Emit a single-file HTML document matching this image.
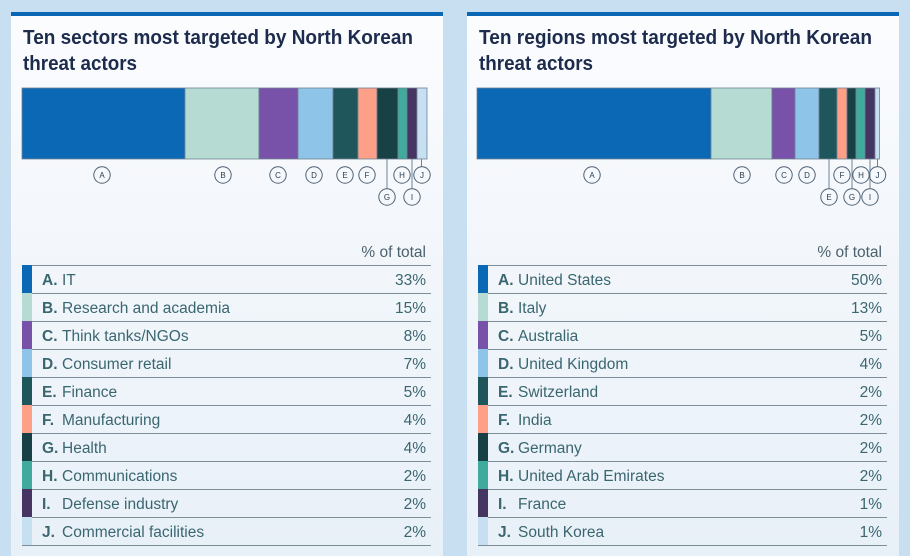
<!DOCTYPE html>
<html>
<head>
<meta charset="utf-8">
<style>
html,body{margin:0;padding:0;background:#c8dff1;}
svg{display:block;}
</style>
</head>
<body>
<svg width="910" height="556" viewBox="0 0 910 556" xmlns="http://www.w3.org/2000/svg" font-family="'Liberation Sans', sans-serif">
<defs>
<linearGradient id="cg" x1="0" y1="0" x2="0" y2="1">
<stop offset="0" stop-color="#fbfcfe"/>
<stop offset="1" stop-color="#e8f0f8"/>
</linearGradient>
</defs>
<rect x="0" y="0" width="910" height="556" fill="#c8dff1"/>

<!-- LEFT CARD -->
<rect x="11" y="12" width="432" height="544" fill="url(#cg)"/>
<rect x="11" y="12" width="432" height="4" fill="#0b66b3"/>
<text x="23" y="44" font-size="20" font-weight="bold" fill="#1d2b4d" textLength="390" lengthAdjust="spacingAndGlyphs">Ten sectors most targeted by North Korean</text>
<text x="23" y="70" font-size="20" font-weight="bold" fill="#1d2b4d" textLength="114" lengthAdjust="spacingAndGlyphs">threat actors</text>

<g stroke="#6f8394" stroke-width="0.8">
<rect x="22" y="88" width="163" height="71" fill="#0a68b5"/>
<rect x="185" y="88" width="74" height="71" fill="#b5dbd2"/>
<rect x="259" y="88" width="39" height="71" fill="#7752a8"/>
<rect x="298" y="88" width="35" height="71" fill="#8ec4e8"/>
<rect x="333" y="88" width="25" height="71" fill="#1f565c"/>
<rect x="358" y="88" width="19" height="71" fill="#fea087"/>
<rect x="377" y="88" width="21" height="71" fill="#184145"/>
<rect x="398" y="88" width="9" height="71" fill="#40ab9c"/>
<rect x="407" y="88" width="10" height="71" fill="#463563"/>
<rect x="417" y="88" width="10" height="71" fill="#c6e0f2"/>
</g>

<g stroke="#6f8394" stroke-width="1" fill="none">
<line x1="387" y1="159" x2="387" y2="188.5"/>
<line x1="412" y1="159" x2="412" y2="188.5"/>
<line x1="421.5" y1="159" x2="421.5" y2="166.5"/>
</g>
<g stroke="#4f6275" stroke-width="1" fill="none">
<circle cx="102" cy="175" r="8.2"/>
<circle cx="223" cy="175" r="8.2"/>
<circle cx="278" cy="175" r="8.2"/>
<circle cx="314" cy="175" r="8.2"/>
<circle cx="345" cy="175" r="8.2"/>
<circle cx="367" cy="175" r="8.2"/>
<circle cx="387" cy="197" r="8.2"/>
<circle cx="402" cy="175" r="8.2"/>
<circle cx="412" cy="197" r="8.2"/>
<circle cx="422" cy="175" r="8.2"/>
</g>
<g font-size="8" fill="#2b3e50" text-anchor="middle">
<text x="102" y="178">A</text>
<text x="223" y="178">B</text>
<text x="278" y="178">C</text>
<text x="314" y="178">D</text>
<text x="345" y="178">E</text>
<text x="367" y="178">F</text>
<text x="387" y="200">G</text>
<text x="402" y="178">H</text>
<text x="412" y="200">I</text>
<text x="422" y="178">J</text>
</g>

<text x="426" y="257" font-size="15.5" fill="#4b616c" text-anchor="end">% of total</text>
<g>
<rect x="22" y="265" width="10" height="28" fill="#0a68b5"/>
<rect x="22" y="293" width="10" height="28" fill="#b5dbd2"/>
<rect x="22" y="321" width="10" height="28" fill="#7752a8"/>
<rect x="22" y="349" width="10" height="28" fill="#8ec4e8"/>
<rect x="22" y="377" width="10" height="28" fill="#1f565c"/>
<rect x="22" y="405" width="10" height="28" fill="#fea087"/>
<rect x="22" y="433" width="10" height="28" fill="#184145"/>
<rect x="22" y="461" width="10" height="28" fill="#40ab9c"/>
<rect x="22" y="489" width="10" height="28" fill="#463563"/>
<rect x="22" y="517" width="10" height="28" fill="#c6e0f2"/>
</g>
<g stroke="#7d8e99" stroke-width="1">
<line x1="32" y1="265.5" x2="431" y2="265.5"/>
<line x1="32" y1="293.5" x2="431" y2="293.5"/>
<line x1="32" y1="321.5" x2="431" y2="321.5"/>
<line x1="32" y1="349.5" x2="431" y2="349.5"/>
<line x1="32" y1="377.5" x2="431" y2="377.5"/>
<line x1="32" y1="405.5" x2="431" y2="405.5"/>
<line x1="32" y1="433.5" x2="431" y2="433.5"/>
<line x1="32" y1="461.5" x2="431" y2="461.5"/>
<line x1="32" y1="489.5" x2="431" y2="489.5"/>
<line x1="32" y1="517.5" x2="431" y2="517.5"/>
<line x1="22" y1="545.5" x2="431" y2="545.5"/>
</g>
<g font-size="15.5" fill="#3a6670">
<g font-weight="bold">
<text x="42" y="285">A.</text>
<text x="42" y="313">B.</text>
<text x="42" y="341">C.</text>
<text x="42" y="369">D.</text>
<text x="42" y="397">E.</text>
<text x="42" y="425">F.</text>
<text x="42" y="453">G.</text>
<text x="42" y="481">H.</text>
<text x="42" y="509">I.</text>
<text x="42" y="537">J.</text>
</g>
<text x="62" y="285">IT</text>
<text x="62" y="313">Research and academia</text>
<text x="62" y="341">Think tanks/NGOs</text>
<text x="62" y="369">Consumer retail</text>
<text x="62" y="397">Finance</text>
<text x="62" y="425">Manufacturing</text>
<text x="62" y="453">Health</text>
<text x="62" y="481">Communications</text>
<text x="62" y="509">Defense industry</text>
<text x="62" y="537">Commercial facilities</text>
<g text-anchor="end">
<text x="426" y="285">33%</text>
<text x="426" y="313">15%</text>
<text x="426" y="341">8%</text>
<text x="426" y="369">7%</text>
<text x="426" y="397">5%</text>
<text x="426" y="425">4%</text>
<text x="426" y="453">4%</text>
<text x="426" y="481">2%</text>
<text x="426" y="509">2%</text>
<text x="426" y="537">2%</text>
</g>
</g>

<!-- RIGHT CARD -->
<rect x="467" y="12" width="432" height="544" fill="url(#cg)"/>
<rect x="467" y="12" width="432" height="4" fill="#0b66b3"/>
<text x="479" y="44" font-size="20" font-weight="bold" fill="#1d2b4d" textLength="393" lengthAdjust="spacingAndGlyphs">Ten regions most targeted by North Korean</text>
<text x="479" y="70" font-size="20" font-weight="bold" fill="#1d2b4d" textLength="114" lengthAdjust="spacingAndGlyphs">threat actors</text>

<g stroke="#6f8394" stroke-width="0.8">
<rect x="477" y="88" width="234" height="71" fill="#0a68b5"/>
<rect x="711" y="88" width="61" height="71" fill="#b5dbd2"/>
<rect x="772" y="88" width="23" height="71" fill="#7752a8"/>
<rect x="795" y="88" width="24" height="71" fill="#8ec4e8"/>
<rect x="819" y="88" width="18" height="71" fill="#1f565c"/>
<rect x="837" y="88" width="10" height="71" fill="#fea087"/>
<rect x="847" y="88" width="9" height="71" fill="#184145"/>
<rect x="856" y="88" width="9" height="71" fill="#40ab9c"/>
<rect x="865" y="88" width="10" height="71" fill="#463563"/>
<rect x="875" y="88" width="4.5" height="71" fill="#c6e0f2"/>
</g>

<g stroke="#6f8394" stroke-width="1" fill="none">
<line x1="829" y1="159" x2="829" y2="188.5"/>
<line x1="852" y1="159" x2="852" y2="188.5"/>
<line x1="870" y1="159" x2="870" y2="188.5"/>
<line x1="877.5" y1="159" x2="877.5" y2="166.5"/>
</g>
<g stroke="#4f6275" stroke-width="1" fill="none">
<circle cx="592" cy="175" r="8.2"/>
<circle cx="742" cy="175" r="8.2"/>
<circle cx="784" cy="175" r="8.2"/>
<circle cx="807" cy="175" r="8.2"/>
<circle cx="829" cy="197" r="8.2"/>
<circle cx="842" cy="175" r="8.2"/>
<circle cx="852" cy="197" r="8.2"/>
<circle cx="861" cy="175" r="8.2"/>
<circle cx="870" cy="197" r="8.2"/>
<circle cx="877.5" cy="175" r="8.2"/>
</g>
<g font-size="8" fill="#2b3e50" text-anchor="middle">
<text x="592" y="178">A</text>
<text x="742" y="178">B</text>
<text x="784" y="178">C</text>
<text x="807" y="178">D</text>
<text x="829" y="200">E</text>
<text x="842" y="178">F</text>
<text x="852" y="200">G</text>
<text x="861" y="178">H</text>
<text x="870" y="200">I</text>
<text x="877.5" y="178">J</text>
</g>

<text x="882" y="257" font-size="15.5" fill="#4b616c" text-anchor="end">% of total</text>
<g>
<rect x="478" y="265" width="10" height="28" fill="#0a68b5"/>
<rect x="478" y="293" width="10" height="28" fill="#b5dbd2"/>
<rect x="478" y="321" width="10" height="28" fill="#7752a8"/>
<rect x="478" y="349" width="10" height="28" fill="#8ec4e8"/>
<rect x="478" y="377" width="10" height="28" fill="#1f565c"/>
<rect x="478" y="405" width="10" height="28" fill="#fea087"/>
<rect x="478" y="433" width="10" height="28" fill="#184145"/>
<rect x="478" y="461" width="10" height="28" fill="#40ab9c"/>
<rect x="478" y="489" width="10" height="28" fill="#463563"/>
<rect x="478" y="517" width="10" height="28" fill="#c6e0f2"/>
</g>
<g stroke="#7d8e99" stroke-width="1">
<line x1="488" y1="265.5" x2="887" y2="265.5"/>
<line x1="488" y1="293.5" x2="887" y2="293.5"/>
<line x1="488" y1="321.5" x2="887" y2="321.5"/>
<line x1="488" y1="349.5" x2="887" y2="349.5"/>
<line x1="488" y1="377.5" x2="887" y2="377.5"/>
<line x1="488" y1="405.5" x2="887" y2="405.5"/>
<line x1="488" y1="433.5" x2="887" y2="433.5"/>
<line x1="488" y1="461.5" x2="887" y2="461.5"/>
<line x1="488" y1="489.5" x2="887" y2="489.5"/>
<line x1="488" y1="517.5" x2="887" y2="517.5"/>
<line x1="478" y1="545.5" x2="887" y2="545.5"/>
</g>
<g font-size="15.5" fill="#3a6670">
<g font-weight="bold">
<text x="498" y="285">A.</text>
<text x="498" y="313">B.</text>
<text x="498" y="341">C.</text>
<text x="498" y="369">D.</text>
<text x="498" y="397">E.</text>
<text x="498" y="425">F.</text>
<text x="498" y="453">G.</text>
<text x="498" y="481">H.</text>
<text x="498" y="509">I.</text>
<text x="498" y="537">J.</text>
</g>
<text x="518" y="285">United States</text>
<text x="518" y="313">Italy</text>
<text x="518" y="341">Australia</text>
<text x="518" y="369">United Kingdom</text>
<text x="518" y="397">Switzerland</text>
<text x="518" y="425">India</text>
<text x="518" y="453">Germany</text>
<text x="518" y="481">United Arab Emirates</text>
<text x="518" y="509">France</text>
<text x="518" y="537">South Korea</text>
<g text-anchor="end">
<text x="882" y="285">50%</text>
<text x="882" y="313">13%</text>
<text x="882" y="341">5%</text>
<text x="882" y="369">4%</text>
<text x="882" y="397">2%</text>
<text x="882" y="425">2%</text>
<text x="882" y="453">2%</text>
<text x="882" y="481">2%</text>
<text x="882" y="509">1%</text>
<text x="882" y="537">1%</text>
</g>
</g>
</svg>
</body>
</html>
